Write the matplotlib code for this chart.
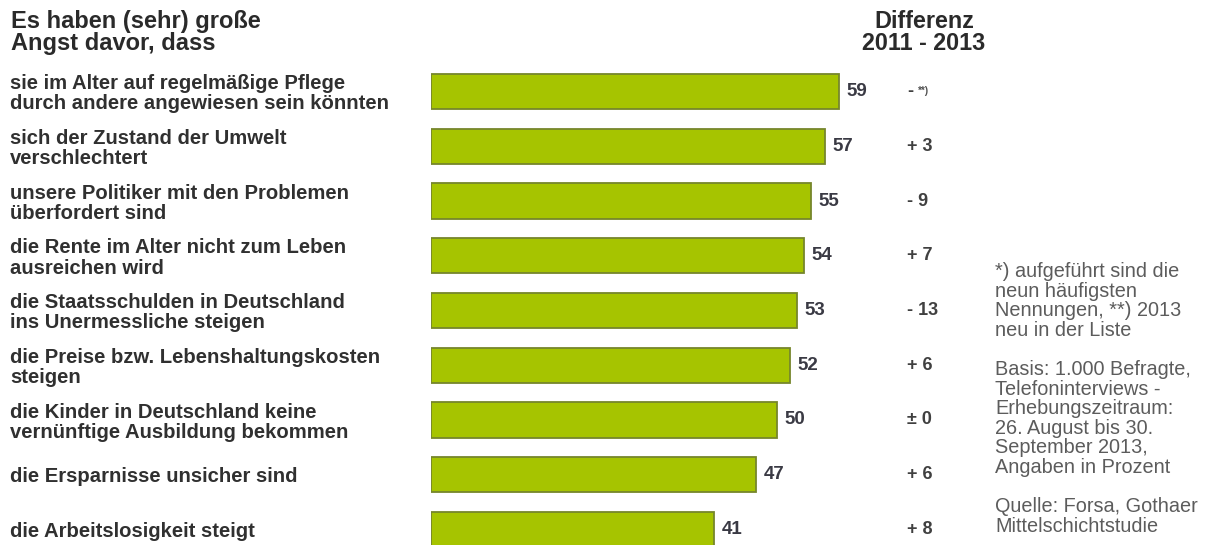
import matplotlib

matplotlib.use("Agg")

import matplotlib.pyplot as plt
from matplotlib.transforms import blended_transform_factory

plt.rcParams["font.family"] = ["Liberation Sans", "DejaVu Sans"]

# survey answers, top to bottom
labels = [
    "sie im Alter auf regelmäßige Pflege\ndurch andere angewiesen sein könnten",
    "sich der Zustand der Umwelt\nverschlechtert",
    "unsere Politiker mit den Problemen\nüberfordert sind",
    "die Rente im Alter nicht zum Leben\nausreichen wird",
    "die Staatsschulden in Deutschland\nins Unermessliche steigen",
    "die Preise bzw. Lebenshaltungskosten\nsteigen",
    "die Kinder in Deutschland keine\nvernünftige Ausbildung bekommen",
    "die Ersparnisse unsicher sind",
    "die Arbeitslosigkeit steigt",
]
values = [59, 57, 55, 54, 53, 52, 50, 47, 41]
diffs = ["-", "+ 3", "- 9", "+ 7", "- 13", "+ 6", "± 0", "+ 6", "+ 8"]

footnote = (
    "*) aufgeführt sind die\n"
    "neun häufigsten\n"
    "Nennungen, **) 2013\n"
    "neu in der Liste\n"
    "\n"
    "Basis: 1.000 Befragte,\n"
    "Telefoninterviews -\n"
    "Erhebungszeitraum:\n"
    "26. August bis 30.\n"
    "September 2013,\n"
    "Angaben in Prozent\n"
    "\n"
    "Quelle: Forsa, Gothaer\n"
    "Mittelschichtstudie"
)

W, H = 1210, 545
fig = plt.figure(figsize=(W / 100, H / 100), dpi=100)
fig.patch.set_facecolor("white")

# bar area: zero line at x=431 px, ~6.91 px per percent
x0, px_per_unit, xmax = 431, 6.91, 60
ax = fig.add_axes([x0 / W, 0, px_per_unit * xmax / W, 1])
ax.set_xlim(0, xmax)
row_px, first_px = 54.75, 91.5
ax.set_ylim(8 + (H - (first_px + 8 * row_px)) / row_px, -first_px / row_px)
ax.axis("off")

ypos = list(range(len(values)))
ax.barh(ypos, values, height=0.64, color="#a6c400", edgecolor="#76862c",
        linewidth=1.3)

text_col = "#303030"
for y, v in zip(ypos, values):
    ax.annotate(str(v), (v, y), xytext=(5.5, 0), textcoords="offset points",
                ha="left", va="center", fontsize=13.5, fontweight="bold",
                color="#3a3a44")

tr = blended_transform_factory(fig.transFigure, ax.transData)
for y, lab in zip(ypos, labels):
    ax.text(10 / W, y + 0.04, lab, transform=tr, ha="left", va="center",
            fontsize=14.6, fontweight="bold", color=text_col, linespacing=1.08)

for y, d in zip(ypos, diffs):
    ax.text(907 / W, y, d, transform=tr, ha="left", va="center",
            fontsize=13, fontweight="bold", color="#404040")
# new entry marker next to the first difference
ax.text(918 / W, -0.01, "**)", transform=tr, ha="left", va="center",
        fontsize=7, fontweight="bold", color="#505050")

# headers
fig.text(11 / W, 1 - 10 / H, "Es haben (sehr) große\nAngst davor, dass",
         ha="left", va="top", fontsize=17, fontweight="bold",
         color="#2a2a2a", linespacing=0.97)
fig.text(924 / W, 1 - 10 / H, "Differenz\n2011 - 2013", ha="center",
         va="top", fontsize=16.8, fontweight="bold", color="#2a2a2a",
         linespacing=0.97, multialignment="center")

fig.text(995 / W, 1 - 262 / H, footnote, ha="left", va="top",
         fontsize=14.3, color="#5c5c5c", linespacing=1.04)

fig.savefig("out.png", dpi=100, facecolor="white")
